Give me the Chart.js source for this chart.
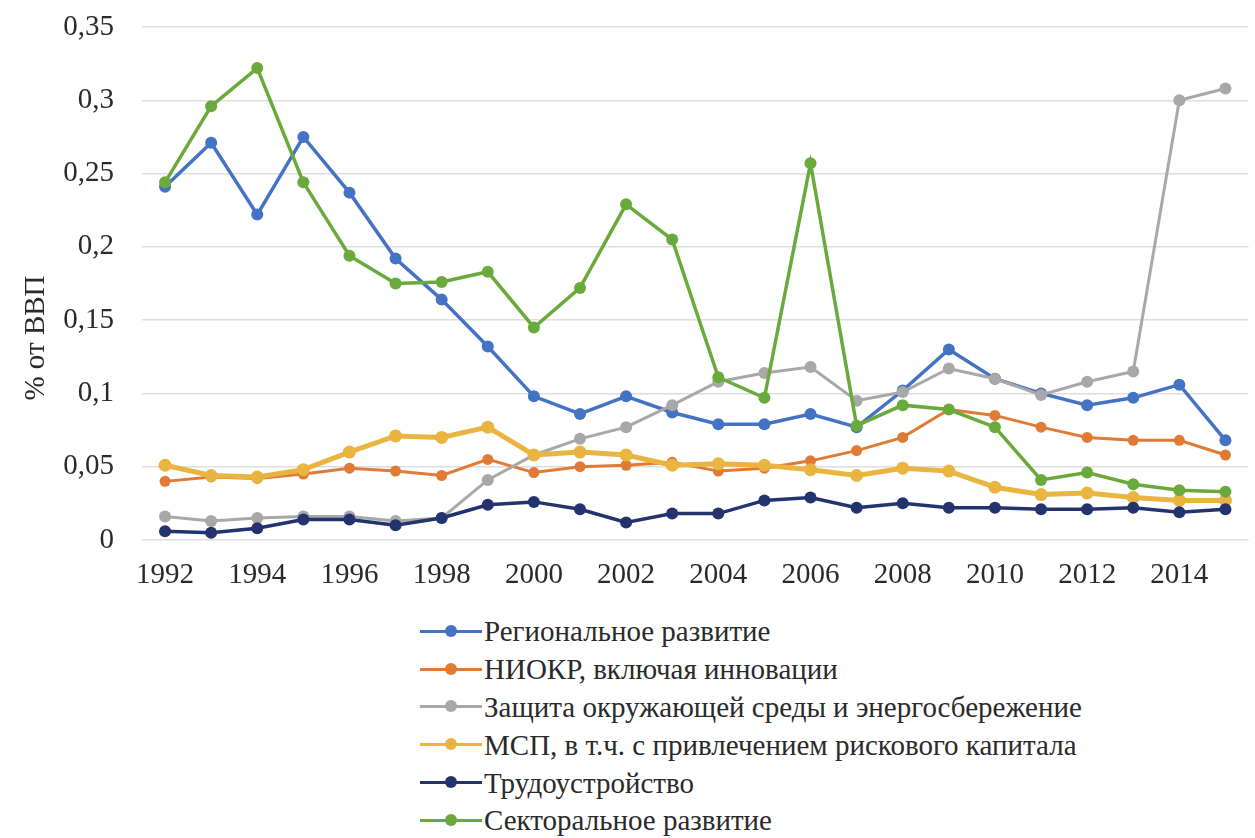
<!DOCTYPE html>
<html>
<head>
<meta charset="utf-8">
<script src="https://cdn.jsdelivr.net/npm/chart.js@4/dist/chart.umd.min.js"></script>
<style>
  body { margin: 0; background: #fff; font-family: "Liberation Serif", serif; }
  #wrap { position: relative; width: 1255px; height: 838px; }
  #chart { position: absolute; left: 0; top: 0; }
  #legend { position: absolute; left: 420px; top: 613px; font-family: "Liberation Serif", serif; font-size: 29px; color: #2a2a2a; }
  .item { height: 37.8px; display: flex; align-items: center; }
  .swatch { position: relative; width: 62px; height: 20px; margin-right: 2px; }
  .swatch .ln { position: absolute; left: 0; right: 0; top: 8px; height: 3px; }
  .swatch .dot { position: absolute; left: 25px; top: 3px; width: 12px; height: 12px; border-radius: 50%; }
</style>
</head>
<body>
<div id="wrap">
  <div id="legend"></div>
  <canvas id="chart" width="1255" height="600"></canvas>
</div>
<script>
var years = [];
for (var y = 1992; y <= 2015; y++) years.push(String(y));

var names = [
  'Региональное развитие',
  'НИОКР, включая инновации',
  'Защита окружающей среды и энергосбережение',
  'МСП, в т.ч. с привлечением рискового капитала',
  'Трудоустройство',
  'Секторальное развитие'
];
var colors = ['#4472C4', '#E07A35', '#A8A8A8', '#E9B540', '#22336E', '#6AAA3C'];

var regional = [0.241, 0.271, 0.222, 0.275, 0.237, 0.192, 0.164, 0.132, 0.098, 0.086, 0.098, 0.087,
                0.079, 0.079, 0.086, 0.077, 0.102, 0.130, 0.110, 0.100, 0.092, 0.097, 0.106, 0.068];
var rnd = [0.040, 0.043, 0.042, 0.045, 0.049, 0.047, 0.044, 0.055, 0.046, 0.050, 0.051, 0.053,
           0.047, 0.049, 0.054, 0.061, 0.070, 0.089, 0.085, 0.077, 0.070, 0.068, 0.068, 0.058];
var environment = [0.016, 0.013, 0.015, 0.016, 0.016, 0.013, 0.015, 0.041, 0.058, 0.069, 0.077, 0.092,
                   0.108, 0.114, 0.118, 0.095, 0.101, 0.117, 0.110, 0.099, 0.108, 0.115, 0.300, 0.308];
var sme = [0.051, 0.044, 0.043, 0.048, 0.060, 0.071, 0.070, 0.077, 0.058, 0.060, 0.058, 0.051,
           0.052, 0.051, 0.048, 0.044, 0.049, 0.047, 0.036, 0.031, 0.032, 0.029, 0.027, 0.027];
var employment = [0.006, 0.005, 0.008, 0.014, 0.014, 0.010, 0.015, 0.024, 0.026, 0.021, 0.012, 0.018,
                  0.018, 0.027, 0.029, 0.022, 0.025, 0.022, 0.022, 0.021, 0.021, 0.022, 0.019, 0.021];
var sectoral = [0.244, 0.296, 0.322, 0.244, 0.194, 0.175, 0.176, 0.183, 0.145, 0.172, 0.229, 0.205,
                0.111, 0.097, 0.257, 0.078, 0.092, 0.089, 0.077, 0.041, 0.046, 0.038, 0.034, 0.033];

var series = [regional, rnd, environment, sme, employment, sectoral];
var widths = [3.5, 3, 3, 5, 3.5, 3.5];
var radii = [6, 5.5, 6, 6.5, 6, 6];

var family = 'Liberation Serif';

// legend rows first, one entry per line
var legend = document.getElementById('legend');
names.forEach(function (name, i) {
  var row = document.createElement('div');
  row.className = 'item';
  var sw = document.createElement('span');
  sw.className = 'swatch';
  var ln = document.createElement('span');
  ln.className = 'ln';
  ln.style.background = colors[i];
  var dot = document.createElement('span');
  dot.className = 'dot';
  dot.style.background = colors[i];
  sw.appendChild(ln);
  sw.appendChild(dot);
  var txt = document.createElement('span');
  txt.textContent = name;
  row.appendChild(sw);
  row.appendChild(txt);
  legend.appendChild(row);
});
legend.offsetWidth;

var datasets = [];
for (var i = 0; i < series.length; i++) {
  datasets.push({
    label: names[i],
    data: series[i],
    borderColor: colors[i],
    backgroundColor: colors[i],
    borderWidth: widths[i],
    pointRadius: radii[i],
    pointBorderWidth: 0,
    pointBackgroundColor: colors[i],
    tension: 0,
    order: series.length - i   // later series on top
  });
}

// rotated axis caption on the left
var yCaption = {
  id: 'yCaption',
  afterDraw: function (chart) {
    var ctx = chart.ctx;
    ctx.save();
    ctx.translate(36, 338);
    ctx.rotate(-Math.PI / 2);
    ctx.font = '29px "' + family + '"';
    ctx.fillStyle = '#2a2a2a';
    ctx.textAlign = 'center';
    ctx.textBaseline = 'middle';
    ctx.fillText('% от ВВП', 0, 0);
    ctx.restore();
  }
};

var serif = { family: family, size: 29 };

var chart = new Chart(document.getElementById('chart'), {
  type: 'line',
  data: { labels: years, datasets: datasets },
  options: {
    responsive: false,
    animation: false,
    layout: { padding: 0 },
    plugins: { legend: { display: false }, tooltip: { enabled: false } },
    scales: {
      x: {
        offset: true,
        grid: { display: false },
        border: { display: false },
        ticks: {
          color: '#2a2a2a', font: serif, autoSkip: false, maxRotation: 0, padding: 10,
          callback: function (v, idx) { return idx % 2 === 0 ? this.getLabelForValue(v) : ''; }
        },
        afterFit: function (s) { s.height = 60; s.paddingLeft = 0; s.paddingRight = 0; }
      },
      y: {
        min: 0, max: 0.35,
        grid: { color: '#dedede', lineWidth: 1.5, drawTicks: false },
        border: { display: false },
        ticks: {
          stepSize: 0.05, color: '#2a2a2a', font: serif, padding: 28,
          callback: function (v) { return String(Math.round(v * 100) / 100).replace('.', ','); }
        },
        afterFit: function (s) { s.width = 142; s.paddingTop = 27; s.paddingBottom = 0; }
      }
    }
  },
  plugins: [yCaption]
});
</script>
</body>
</html>
